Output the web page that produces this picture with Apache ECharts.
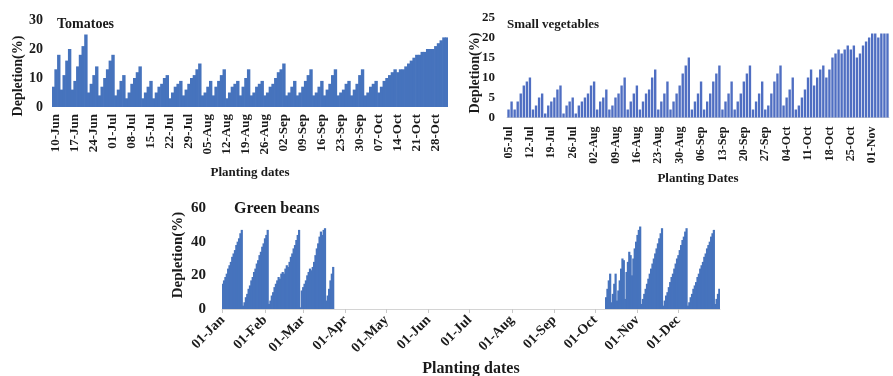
<!DOCTYPE html>
<html>
<head>
<meta charset="utf-8">
<title>Depletion by planting date</title>
<script src="https://cdn.jsdelivr.net/npm/echarts@6/dist/echarts.min.js"></script>
<style>
  html, body { margin: 0; padding: 0; background: #fff; }
  #chart { width: 893px; height: 376px; }
</style>
</head>
<body>
<div id="chart"></div>
<script>
const MONTHS = ['Jan', 'Feb', 'Mar', 'Apr', 'May', 'Jun', 'Jul', 'Aug', 'Sep', 'Oct', 'Nov', 'Dec'];

// Tomatoes: one bar per planting day, 09-Jun .. 01-Nov
const tomatoStart = '2021-06-09';
const tomatoTicks = ['10-Jun', '17-Jun', '24-Jun', '01-Jul', '08-Jul', '15-Jul', '22-Jul', '29-Jul',
    '05-Aug', '12-Aug', '19-Aug', '26-Aug', '02-Sep', '09-Sep', '16-Sep', '23-Sep', '30-Sep',
    '07-Oct', '14-Oct', '21-Oct', '28-Oct'];
const tomatoValues = [
    7, 13, 18, 6, 11, 16, 20, 6, 9, 14, 18, 21, 25, 5, 8, 11, 14,
    4, 7, 10, 13, 16, 18, 4, 6, 9, 11, 3, 5, 8, 10, 12, 14, 3, 5, 7, 9,
    3, 5, 7, 8, 10, 11, 3, 5, 7, 8, 9, 4, 6, 8, 10, 11, 13, 15, 4, 5, 7, 9,
    4, 7, 9, 11, 13, 3, 5, 7, 8, 9, 4, 7, 10, 13, 4, 5, 7, 8, 9,
    4, 5, 7, 8, 10, 12, 13, 15, 4, 5, 7, 9, 4, 5, 7, 9, 11, 13, 4, 5, 7, 9,
    4, 6, 8, 11, 13, 4, 5, 6, 8, 9, 4, 6, 8, 11, 13, 4, 5, 7, 8, 9,
    5, 7, 9, 10, 11, 12, 13, 12, 13, 13, 14, 15, 16, 17, 18, 18, 19, 19, 20, 20, 20, 21, 22, 23, 24, 24
];

// Small vegetables: 05-Jul .. 06-Nov
const vegStart = '2021-07-05';
const vegTicks = ['05-Jul', '12-Jul', '19-Jul', '26-Jul', '02-Aug', '09-Aug', '16-Aug', '23-Aug',
    '30-Aug', '06-Sep', '13-Sep', '20-Sep', '27-Sep', '04-Oct', '11-Oct', '18-Oct', '25-Oct', '01-Nov'];
const vegValues = [
    2, 4, 2, 4, 6, 8, 9, 10, 2, 3, 5, 6, 1, 3, 4, 5, 7, 8, 1, 3, 4, 5,
    1, 3, 4, 5, 6, 8, 9, 2, 4, 5, 7, 2, 3, 5, 6, 8, 10, 2, 4, 6, 8,
    2, 4, 6, 7, 10, 12, 2, 4, 6, 9, 2, 4, 6, 8, 11, 13, 15,
    2, 4, 6, 9, 2, 4, 6, 9, 11, 13, 2, 4, 6, 9, 2, 4, 6, 9, 11, 13,
    2, 4, 6, 9, 2, 3, 6, 9, 11, 13, 3, 5, 7, 10,
    2, 3, 5, 7, 10, 12, 8, 10, 12, 13, 10, 12, 15, 16, 17, 16, 17, 18, 17, 18,
    15, 16, 18, 19, 20, 21, 21, 20, 21, 21, 21
];

// Green beans: whole year on the axis, planted 01-Jan .. 23-Mar and 09-Oct .. 31-Dec
const beansStart = '2021-01-01';
const beansTicks = ['01-Jan', '01-Feb', '01-Mar', '01-Apr', '01-May', '01-Jun', '01-Jul',
    '01-Aug', '01-Sep', '01-Oct', '01-Nov', '01-Dec'];
const beansWinter = [
    15, 17, 19, 21, 24, 26, 28, 31, 33, 35, 38, 40, 42, 45, 47,
    2, 4, 7, 9, 12, 14, 17, 19, 22, 24, 27, 29, 32, 34, 37, 39, 42, 44, 47,
    3, 5, 8, 10, 13, 15, 17, 19, 18, 21, 22, 21, 24, 26, 25, 28, 31, 33, 36, 38, 41, 44, 47,
    1, 11, 13, 15, 17, 20, 22, 24, 23, 25, 28, 32, 36, 39, 43, 46, 44, 47, 48,
    5, 8, 12, 17, 21, 25
];
const beansAutumnStart = '09-Oct';
const beansAutumn = [
    7, 12, 17, 21, 4, 9, 15, 21, 5, 11, 17, 24, 30, 29, 6, 22, 28, 34, 32, 20, 30, 36, 40, 44, 47, 49,
    3, 6, 9, 12, 15, 18, 21, 24, 27, 30, 33, 36, 39, 42, 45, 48,
    2, 5, 8, 10, 13, 16, 19, 21, 24, 27, 30, 32, 35, 38, 41, 43, 46, 48,
    2, 4, 7, 9, 12, 14, 16, 19, 21, 24, 26, 28, 31, 33, 36, 38, 40, 43, 45, 47,
    3, 6, 9, 12
];

function dayLabels(start, count) {
    const out = [];
    const d = new Date(start + 'T00:00:00Z');
    for (let i = 0; i < count; i++) {
        out.push(String(d.getUTCDate()).padStart(2, '0') + '-' + MONTHS[d.getUTCMonth()]);
        d.setUTCDate(d.getUTCDate() + 1);
    }
    return out;
}

const tomatoDays = dayLabels(tomatoStart, tomatoValues.length);
const vegDays = dayLabels(vegStart, vegValues.length);
const beansDays = dayLabels(beansStart, 365);
const autumnIdx = beansDays.indexOf(beansAutumnStart);
const beansData = beansDays.map((d, i) => {
    if (i < beansWinter.length) return beansWinter[i];
    if (i >= autumnIdx) return beansAutumn[i - autumnIdx];
    return null;
});

const FONT = "'Liberation Serif', 'Times New Roman', serif";
const INK = '#1a1a1a';
const BLUE = '#4673bd';

function textStyle(size) {
    return {fontFamily: FONT, fontWeight: 'bold', fontSize: size, color: INK};
}

function xAxis(gridIndex, days, ticks, opts) {
    return {
        type: 'category',
        gridIndex: gridIndex,
        data: days,
        name: opts.name,
        nameLocation: 'middle',
        nameGap: opts.nameGap,
        nameTextStyle: textStyle(opts.nameSize),
        axisLine: {show: opts.line, lineStyle: {color: '#d4d4d4'}},
        axisTick: {
            show: opts.ticks,
            alignWithLabel: true,
            length: 4,
            lineStyle: {color: '#c8c8c8'},
            interval: (i, v) => ticks.includes(v)
        },
        axisLabel: Object.assign(textStyle(opts.labelSize), {
            rotate: opts.rotate,
            margin: opts.margin,
            interval: (i, v) => ticks.includes(v)
        })
    };
}

function yAxis(gridIndex, max, step, size, margin) {
    return {
        type: 'value',
        gridIndex: gridIndex,
        min: 0,
        max: max,
        interval: step,
        axisLine: {show: false},
        axisTick: {show: false},
        splitLine: {show: false},
        axisLabel: Object.assign(textStyle(size), {margin: margin})
    };
}

function yName(x, y, size) {
    return {
        type: 'text',
        x: x,
        y: y,
        rotation: Math.PI / 2,
        style: {
            text: 'Depletion(%)',
            font: 'bold ' + size + 'px ' + FONT,
            fill: INK,
            align: 'center',
            verticalAlign: 'middle'
        }
    };
}

const chart = echarts.init(document.getElementById('chart'));

chart.setOption({
    animation: false,
    backgroundColor: '#ffffff',
    title: [
        {text: 'Tomatoes', left: 57, top: 17, padding: 0, textStyle: textStyle(14)},
        {text: 'Small vegetables', left: 507, top: 18, padding: 0, textStyle: textStyle(13)},
        {text: 'Green beans', left: 234, top: 201, padding: 0, textStyle: textStyle(16)}
    ],
    // fixed plot boxes; keep v6 from shrinking them to fit the labels
    grid: [
        {left: 52, top: 20, width: 396, height: 87, outerBoundsMode: 'none'},
        {left: 507, top: 17.5, width: 382, height: 100, outerBoundsMode: 'none'},
        {left: 222, top: 208, width: 498, height: 101, outerBoundsMode: 'none'}
    ],
    xAxis: [
        xAxis(0, tomatoDays, tomatoTicks, {name: 'Planting dates', nameGap: 59, nameSize: 13,
            line: false, ticks: false, labelSize: 13, rotate: 90, margin: 7}),
        xAxis(1, vegDays, vegTicks, {name: 'Planting Dates', nameGap: 55, nameSize: 13,
            line: true, ticks: false, labelSize: 12, rotate: 90, margin: 9}),
        xAxis(2, beansDays, beansTicks, {name: 'Planting dates', nameGap: 52, nameSize: 16,
            line: true, ticks: true, labelSize: 14, rotate: 45, margin: 9})
    ],
    yAxis: [
        yAxis(0, 30, 10, 14, 9),
        yAxis(1, 25, 5, 13, 12),
        yAxis(2, 60, 20, 15, 16)
    ],
    graphic: [
        yName(18, 76, 14),
        yName(475, 73, 14),
        yName(178, 255, 15)
    ],
    series: [
        {
            // bars a little wider than their day slot so the days join into one solid shape
            type: 'bar', xAxisIndex: 0, yAxisIndex: 0, data: tomatoValues,
            barWidth: 3.4, itemStyle: {color: BLUE}
        },
        {
            type: 'bar', xAxisIndex: 1, yAxisIndex: 1, data: vegValues,
            barCategoryGap: '22%', itemStyle: {color: '#4f6ec2'}
        },
        {
            type: 'bar', xAxisIndex: 2, yAxisIndex: 2, data: beansData,
            barWidth: 2.2, itemStyle: {color: BLUE}
        }
    ]
});
</script>
</body>
</html>
